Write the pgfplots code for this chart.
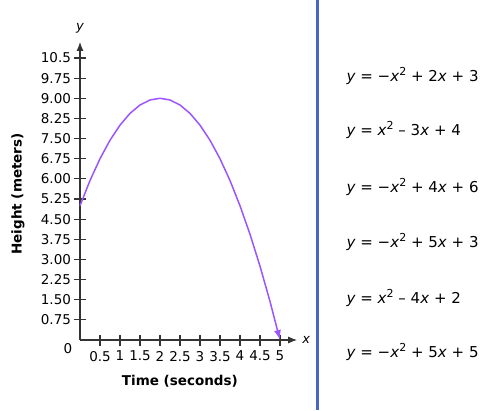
\documentclass[border=0pt]{standalone}
\usepackage{fontspec}
\setmainfont{DejaVu Sans}
\usepackage{pgfplots}
\pgfplotsset{compat=1.18}
\usetikzlibrary{arrows.meta}
\definecolor{curve}{HTML}{9B55FF}
\definecolor{divider}{HTML}{4A66C4}
\definecolor{axisgray}{HTML}{333333}
\newcommand{\sq}{\raisebox{0.45em}{\fontsize{11}{12}\selectfont 2}}
\begin{document}
\begin{tikzpicture}
\useasboundingbox (0pt,0pt) rectangle (500pt,410pt);
\fill[divider] (316pt,0pt) rectangle (319pt,410pt);
\begin{axis}[
  at={(80pt,70pt)}, anchor=south west,
  x=40pt, y=26.857pt,
  xmin=0, xmax=5.43, ymin=0, ymax=11.1,
  axis lines=left,
  axis line style={axisgray, line width=1.2pt, -{Latex[length=9pt,width=7pt]}},
  clip=false,
  xtick={0.5,1,1.5,2,2.5,3,3.5,4,4.5,5},
  xticklabels={0.5,1,1.5,2,2.5,3,3.5,4,4.5,5},
  ytick={0.75,1.5,2.25,3,3.75,4.5,5.25,6,6.75,7.5,8.25,9,9.75,10.5},
  yticklabels={0.75,1.50,2.25,3.00,3.75,4.50,5.25,6.00,6.75,7.50,8.25,9.00,9.75,10.5},
  tick align=center,
  major tick length=11pt,
  tick style={axisgray, line width=1.1pt},
  ticklabel style={font=\fontsize{13.5}{15}\selectfont, text=black},
  xticklabel style={yshift=-2pt},
  yticklabel style={xshift=0pt},
  xlabel={Time (seconds)},
  xlabel style={at={(axis description cs:0.46,0)}, anchor=center, yshift=-41pt, font=\fontsize{13.5}{15}\selectfont\bfseries},
  ylabel={Height (meters)},
  ylabel style={at={(axis description cs:-0.286,0.49)}, anchor=center, font=\fontsize{13.5}{15}\selectfont\bfseries},
]
\addplot[curve, line width=1.5pt, -{Latex[length=10pt,width=7pt]}] coordinates {
(0,5) (0.25,5.9375) (0.5,6.75) (0.75,7.4375) (1,8) (1.25,8.4375) (1.5,8.75) (1.75,8.9375) (2,9)
(2.25,8.9375) (2.5,8.75) (2.75,8.4375) (3,8) (3.25,7.4375) (3.5,6.75) (3.75,5.9375) (4,5)
(4.25,3.9375) (4.5,2.75) (4.75,1.4375) (5,0)};
\node[font=\fontsize{13.5}{15}\selectfont, anchor=center] at (axis cs:0,0) [xshift=-12pt, yshift=-9pt] {0};
\node[font=\fontsize{13}{14}\selectfont\itshape, anchor=center] at (axis cs:0,11.1) [yshift=14pt] {y};
\node[font=\fontsize{13}{14}\selectfont\itshape, anchor=center] at (axis cs:5.43,0) [xshift=9pt] {x};
\end{axis}
\begin{scope}[every node/.style={anchor=west, font=\fontsize{15}{17}\selectfont}]
\node at (343pt,334pt) {\textit{y} = −\textit{x}\sq{} + 2\textit{x} + 3};
\node at (343pt,280pt) {\textit{y} = \textit{x}\sq{} – 3\textit{x} + 4};
\node at (343pt,223pt) {\textit{y} = −\textit{x}\sq{} + 4\textit{x} + 6};
\node at (343pt,168pt) {\textit{y} = −\textit{x}\sq{} + 5\textit{x} + 3};
\node at (343pt,112pt) {\textit{y} = \textit{x}\sq{} – 4\textit{x} + 2};
\node at (343pt,58pt) {\textit{y} = −\textit{x}\sq{} + 5\textit{x} + 5};
\end{scope}
\end{tikzpicture}
\end{document}
